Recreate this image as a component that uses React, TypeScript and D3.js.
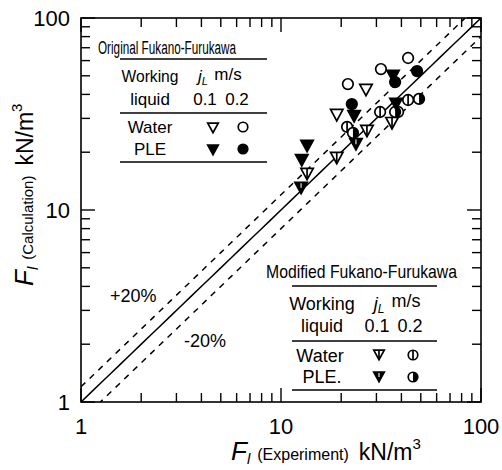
import React from 'react';
import * as d3 from 'd3';

const W = 502, H = 470;
const xDomain: [number, number] = [1, 100];
const yDomain: [number, number] = [1, 100];
const majorTicks = [1, 10, 100];
const majorLabels = ['1', '10', '100'];
const bandRatios = [1.2, 0.8];
const bandLabels = ['+20%', '-20%'];

// [F_l experiment, F_l calculation] kN/m^3
const origWater01: [number, number][] = [[26.6, 42.7], [19.0, 31.6]];
const origWater02: [number, number][] = [[43.2, 61.9], [31.6, 54.2], [21.6, 45.3]];
const origPLE01: [number, number][] = [[36.3, 50.5], [23.2, 31.2], [13.5, 21.8], [12.7, 18.4], [37.6, 36.1]];
const origPLE02: [number, number][] = [[47.9, 52.9], [22.6, 35.6], [37.2, 46.4]];
const modWater01: [number, number][] = [[26.9, 26.1], [35.9, 28.7], [19.0, 18.9], [13.5, 15.6]];
const modWater02: [number, number][] = [[31.3, 32.4], [43.2, 37.4], [21.4, 27.1], [38.5, 32.4]];
const modPLE01: [number, number][] = [[23.7, 22.3], [12.6, 13.2]];
const modPLE02: [number, number][] = [[49.0, 37.9], [37.2, 32.4], [22.9, 25.2]];

const FONT = "'Liberation Sans', Arial, Helvetica, sans-serif";

type Kind = 'triOpen' | 'triFill' | 'circOpen' | 'circFill' | 'triLine' | 'triFillLine' | 'circLine' | 'circHalf';

function Marker({ kind, cx, cy, s = 1 }: { kind: Kind; cx: number; cy: number; s?: number }) {
  const hw = 6.2 * s, top = 4.6 * s, bot = 6.8 * s, r = 5.3 * s;
  const tri = `M${cx - hw},${cy - top}L${cx + hw},${cy - top}L${cx},${cy + bot}Z`;
  const sw = 1.7;
  switch (kind) {
    case 'triOpen':
      return <path d={tri} fill="#fff" stroke="#000" strokeWidth={sw} />;
    case 'triFill':
      return <path d={tri} fill="#000" stroke="#000" strokeWidth={sw} />;
    case 'triLine':
      return <g><path d={tri} fill="#fff" stroke="#000" strokeWidth={sw} />
        <line x1={cx} x2={cx} y1={cy - top} y2={cy + bot} stroke="#000" strokeWidth={1.7} /></g>;
    case 'triFillLine':
      return <g><path d={tri} fill="#000" stroke="#000" strokeWidth={sw} />
        <line x1={cx} x2={cx} y1={cy - top + 1} y2={cy + 1} stroke="#fff" strokeWidth={1.1} /></g>;
    case 'circOpen':
      return <circle cx={cx} cy={cy} r={r} fill="#fff" stroke="#000" strokeWidth={sw} />;
    case 'circFill':
      return <circle cx={cx} cy={cy} r={r} fill="#000" stroke="#000" strokeWidth={sw} />;
    case 'circLine':
      return <g><circle cx={cx} cy={cy} r={r} fill="#fff" stroke="#000" strokeWidth={sw} />
        <line x1={cx} x2={cx} y1={cy - r} y2={cy + r} stroke="#000" strokeWidth={1.7} /></g>;
    case 'circHalf': {
      const arc = d3.arc()({ innerRadius: 0, outerRadius: r, startAngle: 0, endAngle: Math.PI } as any) || '';
      return <g><circle cx={cx} cy={cy} r={r} fill="#fff" stroke="#000" strokeWidth={sw} />
        <path d={arc} transform={`translate(${cx},${cy})`} fill="#000" /></g>;
    }
  }
  return null;
}

export default function App() {
  const left = 81, right = 481, top = 18, bottom = 402;
  const x = d3.scaleLog().domain(xDomain).range([left, right]);
  const y = d3.scaleLog().domain(yDomain).range([bottom, top]);

  const ticks: { v: number; major: boolean }[] = [];
  for (const d of [1, 10]) for (let m = 1; m <= 9; m++) ticks.push({ v: d * m, major: m === 1 });
  ticks.push({ v: 100, major: true });

  const clipId = 'plotclip';
  const line = d3.line<[number, number]>().x(d => x(d[0])).y(d => y(d[1]));
  const diag = d3.range(0, 2.0001, 0.05).map(e => Math.pow(10, e));

  const series: { data: [number, number][]; kind: Kind }[] = [
    { data: modWater01, kind: 'triLine' },
    { data: modWater02, kind: 'circLine' },
    { data: modPLE01, kind: 'triFillLine' },
    { data: modPLE02, kind: 'circHalf' },
    { data: origWater01, kind: 'triOpen' },
    { data: origWater02, kind: 'circOpen' },
    { data: origPLE01, kind: 'triFill' },
    { data: origPLE02, kind: 'circFill' },
  ];

  const lw = 1.4;
  return (
    <svg width={W} height={H} style={{ display: 'block', position: 'absolute', left: 0, top: 0 }} fontFamily={FONT}>
      <rect width={W} height={H} fill="#fff" />
      <defs>
        <clipPath id={clipId}><rect x={left} y={top} width={right - left} height={bottom - top} /></clipPath>
      </defs>
      {/* reference lines */}
      <g clipPath={`url(#${clipId})`}>
        <path d={line(diag.map(v => [v, v]) as any) || ''} fill="none" stroke="#000" strokeWidth={1.5} />
        {bandRatios.map((k, i) => (
          <path key={i} d={line(diag.map(v => [v, v * k]) as any) || ''} fill="none" stroke="#000" strokeWidth={1.5} strokeDasharray="6,6" />
        ))}
      </g>
      {/* frame */}
      <rect x={left} y={top} width={right - left} height={bottom - top} fill="none" stroke="#000" strokeWidth={1.6} />
      {/* ticks */}
      {ticks.map((t, i) => {
        const L = t.major ? 14 : 9;
        const px = x(t.v), py = y(t.v);
        return (
          <g key={i} stroke="#000" strokeWidth={lw}>
            <line x1={px} x2={px} y1={bottom} y2={bottom - L} />
            <line x1={px} x2={px} y1={top} y2={top + L} />
            <line x1={left} x2={left + L} y1={py} y2={py} />
            <line x1={right} x2={right - L} y1={py} y2={py} />
          </g>
        );
      })}
      {/* tick labels */}
      {majorTicks.map((v, i) => (
        <text key={'x' + i} x={x(v)} y={434} textAnchor="middle" fontSize={22}>{majorLabels[i]}</text>
      ))}
      {majorTicks.map((v, i) => (
        <text key={'y' + i} x={70} y={y(v) + 8} textAnchor="end" fontSize={22}>{majorLabels[i]}</text>
      ))}
      {/* axis titles */}
      <text x={231} y={460} fontSize={26}>
        <tspan fontStyle="italic">F</tspan>
        <tspan fontStyle="italic" fontSize={15} dy={4}>l</tspan>
        <tspan fontSize={16} dx={7} dy={-4}>(Experiment)</tspan>
        <tspan fontSize={23} dx={10}>kN/m</tspan>
        <tspan fontSize={15} dy={-11}>3</tspan>
      </text>
      <text transform="translate(33,286) rotate(-90)" fontSize={26}>
        <tspan fontStyle="italic">F</tspan>
        <tspan fontStyle="italic" fontSize={15} dy={5}>l</tspan>
        <tspan fontSize={15} dx={7} dy={-5}>(Calculation)</tspan>
        <tspan fontSize={23} dx={10}>kN/m</tspan>
        <tspan fontSize={15} dy={-11}>3</tspan>
      </text>
      {/* band labels */}
      <text x={110} y={302} fontSize={18}>{bandLabels[0]}</text>
      <text x={184} y={347} fontSize={18}>{bandLabels[1]}</text>

      {/* data */}
      {series.map((s, si) => s.data.map((d, i) => (
        <Marker key={si + '-' + i} kind={s.kind} cx={x(d[0])} cy={y(d[1])} />
      )))}

      {/* legend 1 */}
      <g fontSize={17}>
        <text x={98} y={54} fontSize={18} textLength={138} lengthAdjust="spacingAndGlyphs">Original Fukano-Furukawa</text>
        <line x1={120} x2={267} y1={59} y2={59} stroke="#000" strokeWidth={lw} />
        <text x={150} y={82} textAnchor="middle" textLength={57} lengthAdjust="spacingAndGlyphs">Working</text>
        <text x={150} y={105} textAnchor="middle">liquid</text>
        <text x={203} y={82} textAnchor="middle" fontStyle="italic">j<tspan fontSize={11} dy={3}>L</tspan></text>
        <text x={228} y={80} textAnchor="middle">m/s</text>
        <text x={205} y={105} textAnchor="middle">0.1</text>
        <text x={237} y={105} textAnchor="middle">0.2</text>
        <line x1={120} x2={267} y1={113} y2={113} stroke="#000" strokeWidth={lw} />
        <text x={150} y={133} textAnchor="middle">Water</text>
        <text x={150} y={155} textAnchor="middle">PLE</text>
        <line x1={120} x2={267} y1={162} y2={162} stroke="#000" strokeWidth={lw} />
      </g>
      <Marker kind="triOpen" cx={213} cy={127} s={0.85} />
      <Marker kind="circOpen" cx={243} cy={127} s={0.9} />
      <Marker kind="triFill" cx={213} cy={149} s={0.85} />
      <Marker kind="circFill" cx={243} cy={149} s={0.9} />

      {/* legend 2 */}
      <g fontSize={18}>
        <text x={266} y={278} fontSize={19} textLength={191} lengthAdjust="spacingAndGlyphs">Modified Fukano-Furukawa</text>
        <line x1={292} x2={437} y1={286} y2={286} stroke="#000" strokeWidth={lw} />
        <text x={322} y={310} textAnchor="middle">Working</text>
        <text x={322} y={332} textAnchor="middle">liquid</text>
        <text x={379} y={310} textAnchor="middle" fontStyle="italic">j<tspan fontSize={12} dy={3}>L</tspan></text>
        <text x={406} y={307} textAnchor="middle">m/s</text>
        <text x={377} y={332} textAnchor="middle">0.1</text>
        <text x={410} y={332} textAnchor="middle">0.2</text>
        <line x1={292} x2={437} y1={341} y2={341} stroke="#000" strokeWidth={lw} />
        <text x={320} y={362} textAnchor="middle">Water</text>
        <text x={322} y={383} textAnchor="middle">PLE.</text>
        <line x1={292} x2={437} y1={390} y2={390} stroke="#000" strokeWidth={lw} />
      </g>
      <Marker kind="triLine" cx={379} cy={354} s={0.85} />
      <Marker kind="circLine" cx={413} cy={355} s={0.9} />
      <Marker kind="triFillLine" cx={379} cy={376} s={0.85} />
      <Marker kind="circHalf" cx={413} cy={377} s={0.9} />
    </svg>
  );
}
